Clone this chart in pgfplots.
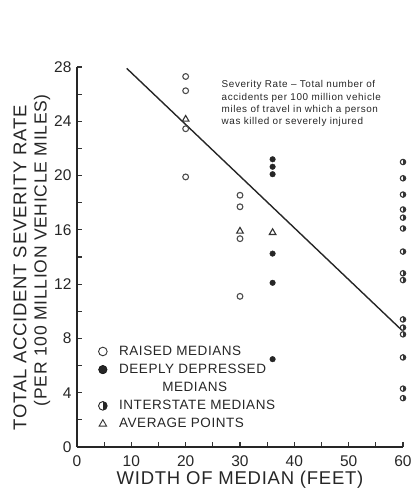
\documentclass[border=0pt]{standalone}
\usepackage{pgfplots}
\pgfplotsset{compat=1.18}
\usetikzlibrary{plotmarks}
\usepackage{fontspec}
\setmainfont{Liberation Sans}
\newfontfamily\wide[LetterSpace=4]{Liberation Sans}
\newfontfamily\note[LetterSpace=6]{Liberation Sans}
\begin{document}
\begin{tikzpicture}[x=1pt,y=1pt]
\path[use as bounding box] (-77,-46) rectangle (338,447);
\begin{axis}[
  at={(0,0)}, anchor=south west,
  scale only axis, width=326pt, height=380pt,
  xmin=0, xmax=60, ymin=0, ymax=28,
  axis lines=left,
  axis line style={line width=1.3pt, black!85, -},
  xtick={0,10,...,60}, minor xtick={5,15,...,55},
  ytick={0,4,...,28}, minor ytick={2,6,...,26},
  tick align=inside, major tick length=5pt, minor tick length=5pt,
  every tick/.style={line width=1.1pt, black!80},
  clip=false,
  /pgf/number format/assume math mode=true,
  ticklabel style={font=\fontsize{15.5}{16}\selectfont, text=black!85},
  xticklabel style={yshift=-5pt},
  yticklabel style={xshift=-2pt},
  legend cell align=left,
  legend style={at={(axis cs:2.6,7.75)}, anchor=north west, draw=none, fill=none,
    font=\wide\fontsize{13.5}{14}\selectfont, text=black!85, row sep=3.2pt, column sep=10pt},
]
% raised medians
\addplot[only marks, mark=o, mark size=2.9pt, mark options={line width=1.1pt, draw=black!70}, forget plot]
 coordinates {(20,27.3)(20,26.25)(20,23.45)(20,19.9)(30,18.55)(30,17.7)(30,15.35)(30,11.1)};
% deeply depressed
\addplot[only marks, mark=*, mark size=2.8pt, mark options={draw=black!85, fill=black!85}, forget plot]
 coordinates {(36,21.2)(36,20.65)(36,20.1)(36,14.25)(36,12.1)(36,6.47)};
% interstate
\addplot[only marks, mark=halfcircle*, mark size=2.7pt, mark options={rotate=-90, line width=1.1pt, draw=black!80, fill=black!80}, forget plot]
 coordinates {(60,21.0)(60,19.8)(60,18.6)(60,17.5)(60,16.9)(60,16.1)(60,14.4)(60,12.8)(60,12.3)(60,9.4)(60,8.8)(60,8.3)(60,6.6)(60,4.3)(60,3.6)};
% average points
\addplot[only marks, mark=triangle, mark size=3.8pt, mark options={line width=1.1pt, draw=black!80}, forget plot]
 coordinates {(20,24.15)(30,15.9)(36,15.8)};
% fitted line
\addplot[line width=1.4pt, black!85, forget plot] coordinates {(9.15,27.9)(59.8,8.6)};

\addlegendimage{only marks, mark=o, mark size=4.3pt, mark options={line width=0.9pt, draw=black!80}}
\addlegendentry{RAISED MEDIANS}
\addlegendimage{only marks, mark=*, mark size=4.3pt, mark options={draw=black, fill=black!85}}
\addlegendentry{DEEPLY DEPRESSED}
\addlegendimage{empty legend}
\addlegendentry{\hspace{3.2em}MEDIANS}
\addlegendimage{only marks, mark=halfcircle*, mark size=4.3pt, mark options={rotate=-90, line width=0.9pt, draw=black!85, fill=black!85}}
\addlegendentry{INTERSTATE MEDIANS}
\addlegendimage{only marks, mark=triangle, mark size=4.3pt, mark options={line width=0.9pt, draw=black!80}}
\addlegendentry{AVERAGE POINTS}

\node[anchor=north west, align=left, inner sep=0pt, font=\note\fontsize{9.9}{12.2}\selectfont, text=black!85]
  at (axis cs:26.6,27.0) {Severity Rate – Total number of\\accidents per 100 million vehicle\\miles of travel in which a person\\was killed or severely injured};
\node[font=\wide\fontsize{18.5}{18}\selectfont, text=black!85] at ([yshift=-33pt]axis cs:30,0) {WIDTH OF MEDIAN (FEET)};
\node[rotate=90, font=\wide\fontsize{18.5}{18}\selectfont, text=black!85] at ([xshift=-57pt]axis cs:0,13.2) {TOTAL ACCIDENT SEVERITY RATE};
\node[rotate=90, font=\wide\fontsize{17.5}{18}\selectfont, text=black!85] at ([xshift=-35pt]axis cs:0,14.5) {(PER 100 MILLION VEHICLE MILES)};
\end{axis}
\end{tikzpicture}
\end{document}
